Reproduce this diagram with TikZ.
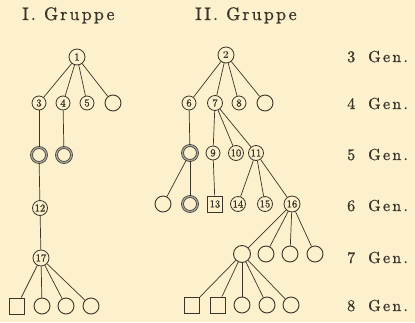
\documentclass[tikz,border=0pt]{standalone}
\usepackage{fontspec}
\definecolor{paper}{RGB}{252,241,204}
\definecolor{ink}{RGB}{58,53,42}
\newfontfamily\grpfont[LetterSpace=12,FakeBold=1]{lmroman10-regular.otf}
\newfontfamily\genfont[LetterSpace=14,FakeBold=1]{lmroman10-regular.otf}
\newfontfamily\numfont[FakeBold=1.5]{lmroman10-regular.otf}
\newfontfamily\numbold{lmroman10-bold.otf}
\begin{document}
\begin{tikzpicture}[x=1pt,y=-1pt,
		num/.style={circle,draw=ink,line width=.8pt,inner sep=0pt,minimum size=14pt,text=ink,font=\numfont\fontsize{10.5}{10.5}\selectfont},
		blank/.style={circle,draw=ink,line width=.9pt,inner sep=0pt,minimum size=16pt},
		ring/.style={circle,draw=ink,line width=.7pt,double=ink!45,double distance=1.3pt,inner sep=0pt,minimum size=15pt},
		sqbox/.style={rectangle,draw=ink,line width=.9pt,inner sep=0pt,minimum width=15pt,minimum height=16pt,text=ink,font=\numfont\fontsize{10.5}{10.5}\selectfont},
		edge/.style={draw=ink,line width=.7pt},
		gen/.style={anchor=base west,inner sep=0pt,text=ink,font=\genfont\fontsize{16}{16}\selectfont}]
	\useasboundingbox (0,0) rectangle (415,322);
	\fill [paper] (0,0) rectangle (415,322);

	% Ueberschriften
	\node [anchor=base west,inner sep=0pt,text=ink,font=\grpfont\fontsize{18}{18}\selectfont] (gI) at (22,20) {I. Gruppe};
	\node [anchor=base west,inner sep=0pt,text=ink,font=\grpfont\fontsize{18}{18}\selectfont] (gII) at (195,20) {II. Gruppe};

	% Generationen
	\node [gen] (gen3) at (347,62) {3\kern13pt Gen.};
	\node [gen] (gen4) at (347,109) {4\kern13pt Gen.};
	\node [gen] (gen5) at (347,160) {5\kern13pt Gen.};
	\node [gen] (gen6) at (347,211) {6\kern13pt Gen.};
	\node [gen] (gen7) at (347,263) {7\kern13pt Gen.};
	\node [gen] (gen8) at (347,311) {8\kern13pt Gen.};

	% I. Gruppe
	\node [num,minimum size=16pt] (a1) at (77,57) {1};
	\node [num] (a3) at (39,103) {3};
	\node [num] (a4) at (63,103) {4};
	\node [num] (a5) at (87,103) {5};
	\node [blank] (a4x) at (113,103) {};
	\node [ring] (a5a) at (39,155) {};
	\node [ring] (a5b) at (64,155) {};
	\node [num,minimum size=15pt] (a12) at (40,208) {12};
	\node [num,minimum size=16pt] (a17) at (41,258) {17};
	\node [sqbox] (a8a) at (17,306) {};
	\node [blank] (a8b) at (42,306) {};
	\node [blank] (a8c) at (66,306) {};
	\node [blank] (a8d) at (91,306) {};

	\foreach \k in {a3,a4,a5,a4x} \draw [edge] (a1) -- (\k);
	\draw [edge] (a3) -- (a5a);
	\draw [edge] (a4) -- (a5b);
	\draw [edge] (a5a) -- (a12);
	\draw [edge] (a12) -- (a17);
	\foreach \k in {a8a,a8b,a8c,a8d} \draw [edge] (a17) -- (\k);

	% II. Gruppe
	\node [num,minimum size=16pt] (b2) at (226,55) {\numbold 2};
	\node [num] (b6) at (189,103) {6};
	\node [num,minimum size=15pt] (b7) at (215,103) {7};
	\node [num] (b8) at (239,103) {8};
	\node [blank] (b4x) at (265,103) {};
	\node [ring] (b5a) at (190,153) {};
	\node [num] (b9) at (213,153) {9};
	\node [num,minimum size=15pt] (b10) at (236,153) {10};
	\node [num,minimum size=15pt] (b11) at (256,153) {11};
	\node [blank] (b6a) at (163,204) {};
	\node [ring] (b6b) at (190,204) {};
	\node [sqbox] (b13) at (215,204) {13};
	\node [num,minimum size=15pt] (b14) at (238,204) {14};
	\node [num,minimum size=15pt] (b15) at (265,204) {15};
	\node [num,minimum size=16pt] (b16) at (292,204) {16};
	\node [blank,minimum size=17pt] (b7a) at (242,254) {};
	\node [blank] (b7b) at (266,254) {};
	\node [blank] (b7c) at (290,254) {};
	\node [blank] (b7d) at (315,254) {};
	\node [sqbox] (b8a) at (192,305) {};
	\node [sqbox] (b8b) at (218,305) {};
	\node [blank] (b8c) at (242,305) {};
	\node [blank] (b8d) at (267,305) {};
	\node [blank] (b8e) at (291,305) {};

	\foreach \k in {b6,b7,b8,b4x} \draw [edge] (b2) -- (\k);
	\draw [edge] (b6) -- (b5a);
	\foreach \k in {b9,b10,b11} \draw [edge] (b7) -- (\k);
	\draw [edge] (b5a) -- (b6a);
	\draw [edge] (b5a) -- (b6b);
	\draw [edge] (b9) -- (b13);
	\foreach \k in {b14,b15,b16} \draw [edge] (b11) -- (\k);
	\foreach \k in {b7a,b7b,b7c,b7d} \draw [edge] (b16) -- (\k);
	\foreach \k in {b8a,b8b,b8c,b8d,b8e} \draw [edge] (b7a) -- (\k);
\end{tikzpicture}
\end{document}
